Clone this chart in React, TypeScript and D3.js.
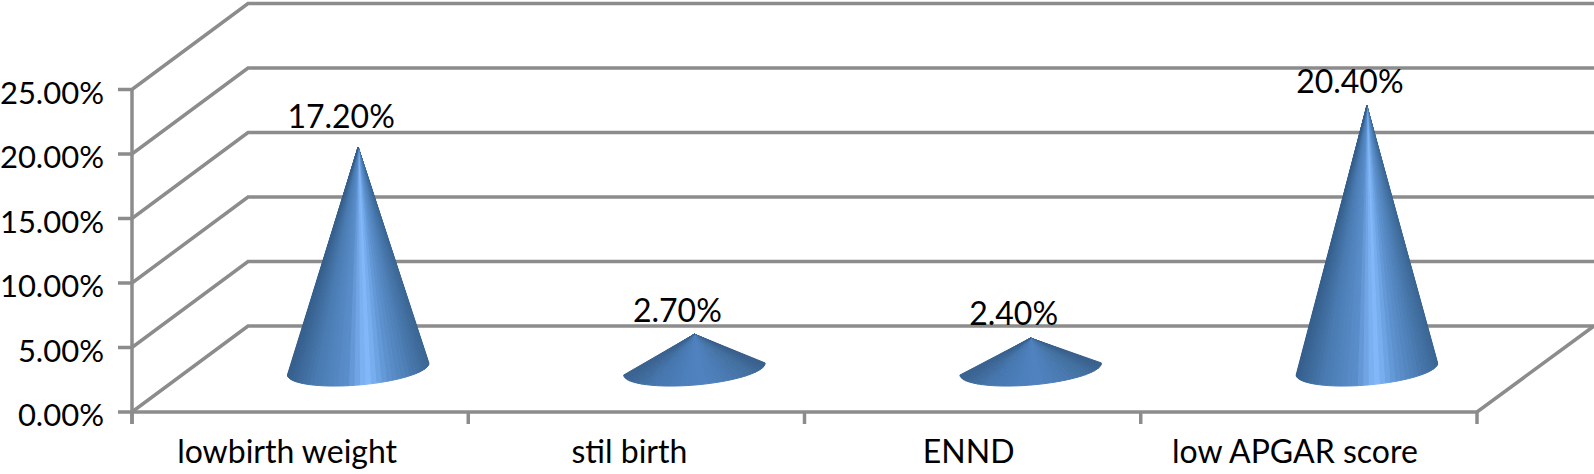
import * as d3 from 'd3';
import { useRef, useEffect } from 'react';

const categories = ['lowbirth weight', 'stil birth', 'ENND', 'low APGAR score'];
const values = [17.2, 2.7, 2.4, 20.4];
const yTicks = [0, 5, 10, 15, 20, 25];
const labelLift = [19, 12, 13, 13];
// category labels are not centred on their bands in the original
const categoryShift = [-13, -7, -4, -14];

const WIDTH = 1594;
const HEIGHT = 474;
const GREY = '#8c8c8c';
const FONT = 'Lato, sans-serif';

// floor depth of the fake 3d box
const DEPTH_X = 116;
const DEPTH_Y = 86;

const RX = 71;
const RY = 16;
const TILT = (-4.9 * Math.PI) / 180;

const shadeStops = [0, 0.2, 0.42, 0.52, 0.57, 0.7, 0.9, 1];
const tallShades = ['#355f8c', '#4a7bb2', '#5a8ecb', '#79aeef', '#82b8f9', '#5f94d2', '#4675a8', '#3a6593'];
const shortShades = ['#39628f', '#4676ae', '#4c7fbb', '#4f82bf', '#4f82bf', '#4b7cb6', '#42709f', '#395f8c'];

const App = () => {
  const svgRef = useRef(null);

  useEffect(() => {
    const svg = d3.select(svgRef.current);
    svg.selectAll('*').remove();

    const y = d3.scaleLinear().domain([0, 25]).range([412, 89.5]);
    const x = d3.scaleBand().domain(categories).range([132, 1477]);
    const line = d3.line();

    const walls = svg.append('g').attr('fill', 'none').attr('stroke', GREY).attr('stroke-width', 3.5);

    yTicks.forEach((t) => {
      const p = line([
        [118, y(t)],
        [132, y(t)],
        [132 + DEPTH_X, y(t) - DEPTH_Y],
        [WIDTH, y(t) - DEPTH_Y],
      ]);
      walls.append('path').attr('d', p);
    });

    // front axis and the right floor edge
    walls.append('path').attr('d', line([[132, y(25)], [132, 424]]));
    walls.append('path').attr('d', line([[132, y(0)], [1477, y(0)], [WIDTH, y(0) - DEPTH_Y]]));
    [...categories.map((c) => x(c)), x.range()[1]].forEach((tx) => {
      walls.append('path').attr('d', line([[tx, y(0)], [tx, 424]]));
    });

    svg
      .append('g')
      .selectAll('text')
      .data(yTicks)
      .join('text')
      .attr('x', 104)
      .attr('y', (d) => y(d) + 14)
      .attr('text-anchor', 'end')
      .attr('font-family', FONT)
      .attr('font-size', 31)
      .attr('fill', '#000')
      .text((d) => d3.format('.2f')(d) + '%');

    // cones, drawn as a fan of wedges from the apex so the shading converges to the tip
    const tallColor = d3.scaleLinear().domain(shadeStops).range(tallShades);
    const shortColor = d3.scaleLinear().domain(shadeStops).range(shortShades);

    categories.forEach((c, i) => {
      const cx = x(c) + x.bandwidth() / 2 + DEPTH_X / 2;
      const cy = y(0) - DEPTH_Y / 2;
      const apex = [cx, y(values[i]) - DEPTH_Y / 2];
      const color = values[i] > 10 ? tallColor : shortColor;
      const g = svg.append('g');

      const rim = d3.range(0, 41).map((k) => {
        const a = (k / 40) * Math.PI;
        return [
          cx + RX * Math.cos(a) * Math.cos(TILT) - RY * Math.sin(a) * Math.sin(TILT),
          cy + RX * Math.cos(a) * Math.sin(TILT) + RY * Math.sin(a) * Math.cos(TILT),
        ];
      });

      d3.pairs(rim).forEach(([p, q]) => {
        const shade = color(((p[0] + q[0]) / 2 - (cx - RX)) / (2 * RX));
        g.append('path')
          .attr('d', line([apex, p, q]) + 'Z')
          .attr('fill', shade)
          .attr('stroke', shade)
          .attr('stroke-width', 1);
      });
    });

    svg
      .append('g')
      .selectAll('text')
      .data(values)
      .join('text')
      .attr('x', (d, i) => x(categories[i]) + x.bandwidth() / 2 + DEPTH_X / 2 - 17)
      .attr('y', (d, i) => y(d) - DEPTH_Y / 2 - labelLift[i])
      .attr('text-anchor', 'middle')
      .attr('font-family', FONT)
      .attr('font-size', 32)
      .attr('fill', '#000')
      .text((d) => d3.format('.2f')(d) + '%');

    svg
      .append('g')
      .selectAll('text')
      .data(categories)
      .join('text')
      .attr('x', (d, i) => x(d) + x.bandwidth() / 2 + categoryShift[i])
      .attr('y', 463)
      .attr('text-anchor', 'middle')
      .attr('font-family', FONT)
      .attr('font-size', 32)
      .attr('fill', '#000')
      .text((d) => d);
  }, []);

  return (
    <svg
      ref={svgRef}
      width={WIDTH}
      height={HEIGHT}
      style={{ position: 'absolute', left: 0, top: 0, background: '#fff' }}
    />
  );
};

export default App;
